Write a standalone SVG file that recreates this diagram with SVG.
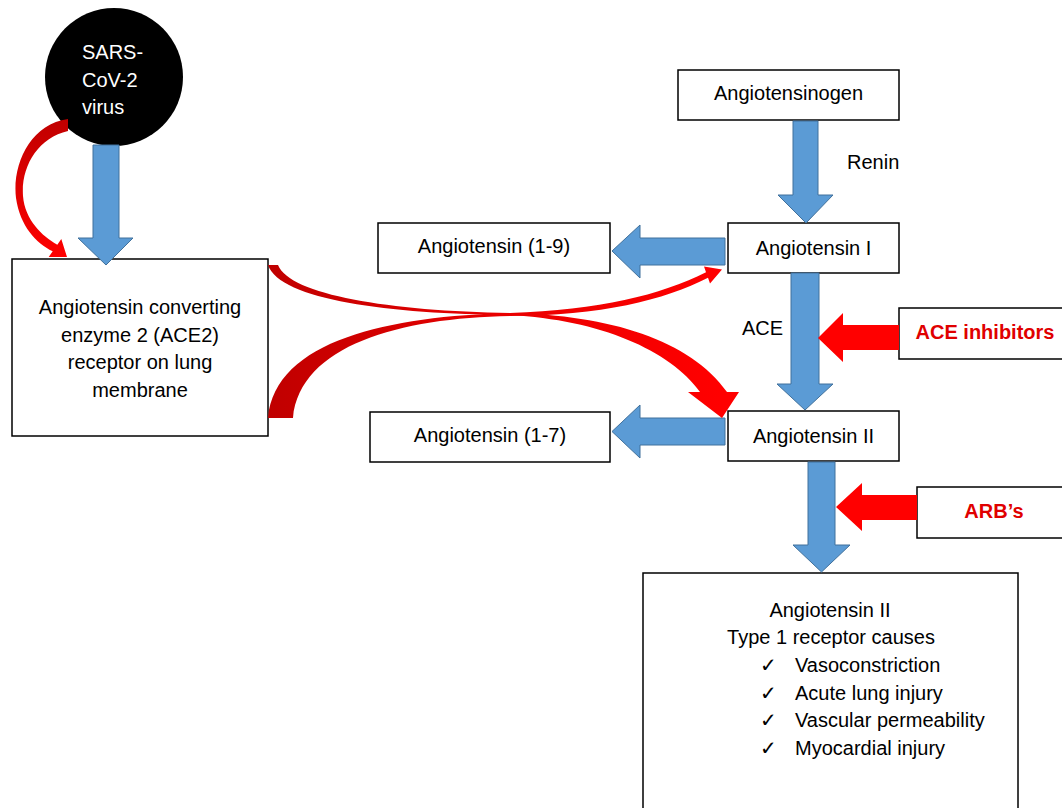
<svg xmlns="http://www.w3.org/2000/svg" width="1062" height="808" viewBox="0 0 1062 808">
<defs>
<style>
.box{fill:#fff;stroke:#000;stroke-width:1.5}
.t{font-family:"Liberation Sans",Arial,sans-serif;font-size:20px;fill:#000}
.c{text-anchor:middle}
.red{font-family:"Liberation Sans",Arial,sans-serif;font-size:20px;font-weight:bold;fill:#E00000;text-anchor:middle}
.blue{fill:#5B9BD5;stroke:#41719C;stroke-width:1}
.inh{fill:#FF0000}
.chk{font-family:"DejaVu Sans",sans-serif;font-size:20px;fill:#000}
</style>
<linearGradient id="gh" gradientUnits="userSpaceOnUse" x1="270" y1="0" x2="720" y2="0">
<stop offset="0" stop-color="#C00000"/>
<stop offset="0.5" stop-color="#E80000"/>
<stop offset="1" stop-color="#FF0000"/>
</linearGradient>
<linearGradient id="gv" gradientUnits="userSpaceOnUse" x1="0" y1="119" x2="0" y2="258">
<stop offset="0" stop-color="#C00000"/>
<stop offset="1" stop-color="#FF0000"/>
</linearGradient>
</defs>
<rect width="1062" height="808" fill="#fff"/>

<g id="virus">
<circle cx="114" cy="77" r="69" fill="#000"/>
<text class="t" x="82" y="59" style="fill:#fff">SARS-</text>
<text class="t" x="82" y="87" style="fill:#fff">CoV-2</text>
<text class="t" x="82" y="114" style="fill:#fff">virus</text>
</g>

<g id="ace2">
<rect class="box" x="12" y="259" width="256" height="177"/>
<text class="t c" x="140" y="314">Angiotensin converting</text>
<text class="t c" x="140" y="342">enzyme 2 (ACE2)</text>
<text class="t c" x="140" y="369">receptor on lung</text>
<text class="t c" x="140" y="397">membrane</text>
</g>

<g id="angiotensinogen">
<rect class="box" x="678" y="70" width="221" height="50"/>
<text class="t c" x="788.5" y="100">Angiotensinogen</text>
</g>

<g id="ang1">
<rect class="box" x="728" y="223" width="171" height="50"/>
<text class="t c" x="813.5" y="255">Angiotensin I</text>
</g>

<g id="ang19">
<rect class="box" x="378" y="223" width="232" height="50"/>
<text class="t c" x="494" y="253">Angiotensin (1-9)</text>
</g>

<g id="ang2">
<rect class="box" x="728" y="411" width="171" height="50"/>
<text class="t c" x="813.5" y="443">Angiotensin II</text>
</g>

<g id="ang17">
<rect class="box" x="370" y="412" width="240" height="50"/>
<text class="t c" x="490" y="442">Angiotensin (1-7)</text>
</g>

<g id="aceinh">
<rect class="box" x="899" y="308" width="175" height="51"/>
<text class="red" x="985" y="339">ACE inhibitors</text>
</g>

<g id="arbs">
<rect class="box" x="917" y="487" width="157" height="51"/>
<text class="red" x="994" y="518">ARB’s</text>
</g>

<g id="at1">
<rect class="box" x="643" y="573" width="375" height="250"/>
<text class="t c" x="830" y="617">Angiotensin II</text>
<text class="t c" x="831" y="644">Type 1 receptor causes</text>
<text class="chk" x="760" y="672">✓</text>
<text class="t" x="795" y="672">Vasoconstriction</text>
<text class="chk" x="760" y="700">✓</text>
<text class="t" x="795" y="700">Acute lung injury</text>
<text class="chk" x="760" y="727">✓</text>
<text class="t" x="795" y="727">Vascular permeability</text>
<text class="chk" x="760" y="755">✓</text>
<text class="t" x="795" y="755">Myocardial injury</text>
</g>

<g id="labels">
<text class="t" x="847" y="169">Renin</text>
<text class="t" x="742" y="335">ACE</text>
</g>

<g id="connectors">
<polygon class="blue" points="93,145 119,145 119,238 133,238 106,265 78,238 93,238"/>
<polygon class="blue" points="793,121 818,121 818,195 833,195 806,223 778,195 793,195"/>
<polygon class="blue" points="725,238 725,265 640,265 640,278 612,251 640,225 640,238"/>
<polygon class="blue" points="791,273 819,273 819,384 833,384 805,410 777,384 791,384"/>
<polygon class="blue" points="725,418 725,445 640,445 640,458 612,431.5 640,405 640,418"/>
<polygon class="blue" points="808,462 835,462 835,545 850,545 821.5,572 793,545 808,545"/>
<polygon class="inh" points="899,325 899,350 843,350 843,362 818,338 843,313 843,325"/>
<polygon class="inh" points="917,495 917,520 862,520 862,531 836,507 862,483 862,495"/>
<path fill="url(#gv)" d="M68,119 C30,124 12,165 16,198 C20,226 36,243 52.7,251.3 L48.7,257 L67,257 L61.3,239 L57.3,244.7 C42,236 25,220 23,196 C21,166 38,138 68,131 Z"/>
<path fill="url(#gh)" d="M268,265 C280,300 390,314 510,315 C600,320 670,350 700,392 L688,392 L722,418 L739,392 L727,392 C690,340 610,315 510,313 C390,311 290,295 278,265 Z"/>
<path fill="url(#gh)" d="M268,418 C275,340 390,316 510,313 C600,310 660,295 706,272.2 L704,266.5 L722,269.6 L710,283.5 L708,277.8 C665,300 600,316 510,316 C400,318 300,345 293,418 Z"/>
</g>
</svg>
